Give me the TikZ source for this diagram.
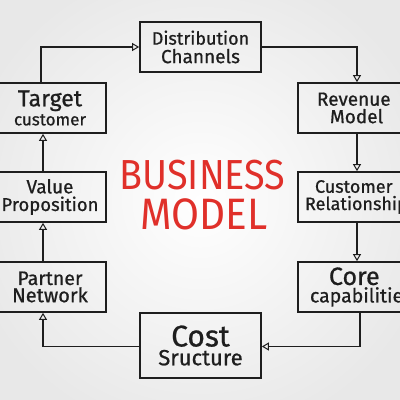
\documentclass[tikz,border=0pt]{standalone}
\usepackage{fontspec}
\setmainfont{Fira Sans}[FakeBold=0.7]
\newfontfamily\redfont{Fira Sans}
\usetikzlibrary{arrows.meta}
\definecolor{ink}{HTML}{1E1E1E}
\definecolor{bizred}{HTML}{E0302A}
\tikzset{
  box/.style={draw=ink, line width=1.7pt, minimum height=50pt, align=center, inner sep=1pt, text=ink},
  rbox/.style={box, minimum width=114pt, align=left},
  arr/.style={draw=ink, line width=1.2pt, -{Triangle[open, length=7pt, width=8pt, line width=1pt]}},
}
\newcommand{\fs}[1]{\fontsize{#1}{1.2\dimexpr#1pt\relax}\selectfont}
\newcommand{\boxline}[2]{\makebox[108pt][l]{\hspace*{#1}#2}}
\begin{document}
\begin{tikzpicture}[x=1pt,y=1pt]
\useasboundingbox (0,0) rectangle (400,400);
\clip (0,0) rectangle (400,400);
\shade[inner color=white, outer color=black!9] (-40,-40) rectangle (440,440);
% boxes
\node[box, minimum width=121pt] (dist) at (200.5,353) {\fs{18}Distribution\\[3pt]\fs{19}Channels};
\node[box, minimum width=112pt] (target) at (50,292) {\fs{23}Target\\[2pt]\fs{17}customer};
\node[box, minimum width=112pt] (value) at (50,203) {\fs{19}Value\\[2pt]\fs{18.5}Proposition};
\node[box, minimum width=112pt] (partner) at (50,113) {\fs{19.5}Partner\\[1pt]\fs{20}Network};
\node[rbox] (revenue) at (355,292) {\fs{19}\boxline{16pt}{Revenue}\\[2pt]\fs{19}\boxline{29pt}{Model}};
\node[rbox] (custrel) at (355,203) {\fs{18}\boxline{14pt}{Customer}\\[2pt]\fs{18}\boxline{4pt}{Relationships}};
\node[rbox] (core) at (355,113) {\fs{25}\boxline{28pt}{Core}\\[1pt]\fs{19.5}\boxline{9pt}{capabilities}};
\node[box, minimum width=121pt, minimum height=65pt] (cost) at (200.5,54.5) {\fs{30}Cost\\[2pt]\fs{22}Sructure};
% title
\node[text=bizred, inner sep=0pt] (biz) at (202.5,225) {\redfont\scalebox{0.9}[1]{\fs{42}BUSINESS}};
\node[text=bizred, inner sep=0pt] (model) at (204,186) {\redfont\scalebox{0.92}[1]{\fs{44}MODEL}};
% connectors
\draw[arr] ([xshift=-9pt]target.north) |- (dist.west);
\draw[arr] (dist.east) -| ([xshift=2pt]revenue.north);
\draw[arr] ([xshift=2pt]revenue.south) -- ([xshift=2pt]custrel.north);
\draw[arr] ([xshift=2pt]custrel.south) -- ([xshift=2pt]core.north);
\draw[arr] ([xshift=5pt]core.south) |- ([yshift=-1pt]cost.east);
\draw[arr] ([yshift=-1pt]cost.west) -| ([xshift=-7pt]partner.south);
\draw[arr] ([xshift=-7pt]partner.north) -- ([xshift=-7pt]value.south);
\draw[arr] ([xshift=-7pt]value.north) -- ([xshift=-7pt]target.south);
\end{tikzpicture}
\end{document}
